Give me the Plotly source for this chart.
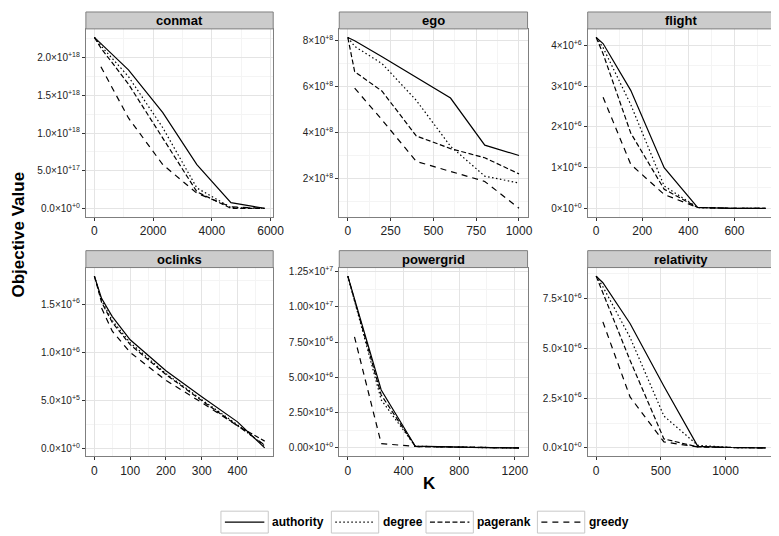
import plotly.graph_objects as go

# ---------------- data ----------------
series_names = ["authority", "degree", "pagerank", "greedy"]
panel_names = ["conmat", "ego", "flight", "oclinks", "powergrid", "relativity"]

conmat_k = [0, 222, 1160, 2330, 3490, 4650, 5800]
conmat_authority = [2.27e18, 2.19e18, 1.84e18, 1.27e18, 0.58e18, 0.075e18, 0.0]
conmat_degree = [2.27e18, 2.16e18, 1.75e18, 1.07e18, 0.27e18, 0.01e18, 0.0]
conmat_pagerank = [2.27e18, 2.13e18, 1.65e18, 0.93e18, 0.22e18, 0.0, 0.0]
conmat_greedy = [None, 1.88e18, 1.2e18, 0.58e18, 0.2e18, 0.02e18, 0.0]

ego_k = [0, 40, 200, 400, 600, 800, 1000]
ego_authority = [8.14e8, 8.0e8, 7.3e8, 6.4e8, 5.5e8, 3.45e8, 3.0e8]
ego_degree = [8.14e8, 7.75e8, 7.0e8, 5.4e8, 3.4e8, 2.1e8, 1.8e8]
ego_pagerank = [8.14e8, 6.65e8, 5.8e8, 3.85e8, 3.3e8, 2.9e8, 2.2e8]
ego_greedy = [None, 5.93e8, 4.55e8, 2.74e8, 2.3e8, 1.87e8, 0.7e8]

flight_k = [0, 30, 150, 295, 440, 590, 735]
flight_authority = [4.2e6, 4.05e6, 2.9e6, 1.0e6, 0.02e6, 0.0, 0.0]
flight_degree = [4.2e6, 3.95e6, 2.55e6, 0.55e6, 0.02e6, 0.0, 0.0]
flight_pagerank = [4.2e6, 3.8e6, 1.85e6, 0.47e6, 0.02e6, 0.0, 0.0]
flight_greedy = [None, 2.73e6, 1.08e6, 0.34e6, 0.02e6, 0.0, 0.0]

oclinks_k = [0, 20, 50, 100, 200, 300, 400, 476]
oclinks_authority = [1.79e6, 1.56e6, 1.37e6, 1.13e6, 0.81e6, 0.54e6, 0.28e6, 0.01e6]
oclinks_degree = [1.79e6, 1.54e6, 1.33e6, 1.10e6, 0.78e6, 0.51e6, 0.25e6, 0.03e6]
oclinks_pagerank = [1.79e6, 1.52e6, 1.31e6, 1.08e6, 0.77e6, 0.50e6, 0.24e6, 0.08e6]
oclinks_greedy = [None, 1.46e6, 1.22e6, 1.0e6, 0.71e6, 0.48e6, 0.24e6, 0.04e6]

powergrid_k = [0, 48, 240, 485, 730, 975, 1230]
powergrid_authority = [12.17e6, 10.55e6, 4.1e6, 0.12e6, 0.05e6, 0.02e6, 0.0]
powergrid_degree = [12.17e6, 10.4e6, 3.4e6, 0.12e6, 0.05e6, 0.02e6, 0.0]
powergrid_pagerank = [12.17e6, 10.5e6, 3.75e6, 0.1e6, 0.05e6, 0.02e6, 0.0]
powergrid_greedy = [None, 7.87e6, 0.31e6, 0.1e6, 0.05e6, 0.02e6, 0.0]

relativity_k = [0, 52, 262, 524, 786, 1048, 1310]
relativity_authority = [8.63e6, 8.3e6, 6.25e6, 3.1e6, 0.08e6, 0.02e6, 0.0]
relativity_degree = [8.63e6, 8.1e6, 5.55e6, 1.6e6, 0.13e6, 0.02e6, 0.0]
relativity_pagerank = [8.63e6, 7.8e6, 4.4e6, 0.45e6, 0.05e6, 0.02e6, 0.0]
relativity_greedy = [None, 6.33e6, 2.56e6, 0.3e6, 0.05e6, 0.02e6, 0.0]

# tick values / labels
conmat_xticks = [0, 2000, 4000, 6000]
conmat_yticks = [0, 5e17, 1e18, 1.5e18, 2e18]
conmat_ylabels = ["0.0×10<sup>+0</sup>", "5.0×10<sup>+17</sup>", "1.0×10<sup>+18</sup>",
                  "1.5×10<sup>+18</sup>", "2.0×10<sup>+18</sup>"]
ego_xticks = [0, 250, 500, 750, 1000]
ego_yticks = [2e8, 4e8, 6e8, 8e8]
ego_ylabels = ["2×10<sup>+8</sup>", "4×10<sup>+8</sup>", "6×10<sup>+8</sup>", "8×10<sup>+8</sup>"]
flight_xticks = [0, 200, 400, 600]
flight_yticks = [0, 1e6, 2e6, 3e6, 4e6]
flight_ylabels = ["0×10<sup>+0</sup>", "1×10<sup>+6</sup>", "2×10<sup>+6</sup>",
                  "3×10<sup>+6</sup>", "4×10<sup>+6</sup>"]
oclinks_xticks = [0, 100, 200, 300, 400]
oclinks_yticks = [0, 5e5, 1e6, 1.5e6]
oclinks_ylabels = ["0.0×10<sup>+0</sup>", "5.0×10<sup>+5</sup>", "1.0×10<sup>+6</sup>",
                   "1.5×10<sup>+6</sup>"]
powergrid_xticks = [0, 400, 800, 1200]
powergrid_yticks = [0, 2.5e6, 5e6, 7.5e6, 1e7, 1.25e7]
powergrid_ylabels = ["0.00×10<sup>+0</sup>", "2.50×10<sup>+6</sup>", "5.00×10<sup>+6</sup>",
                     "7.50×10<sup>+6</sup>", "1.00×10<sup>+7</sup>", "1.25×10<sup>+7</sup>"]
relativity_xticks = [0, 500, 1000]
relativity_yticks = [0, 2.5e6, 5e6, 7.5e6]
relativity_ylabels = ["0.0×10<sup>+0</sup>", "2.5×10<sup>+6</sup>", "5.0×10<sup>+6</sup>",
                      "7.5×10<sup>+6</sup>"]

panels = {
    "conmat": (conmat_k, [conmat_authority, conmat_degree, conmat_pagerank, conmat_greedy],
               conmat_xticks, conmat_yticks, conmat_ylabels),
    "ego": (ego_k, [ego_authority, ego_degree, ego_pagerank, ego_greedy],
            ego_xticks, ego_yticks, ego_ylabels),
    "flight": (flight_k, [flight_authority, flight_degree, flight_pagerank, flight_greedy],
               flight_xticks, flight_yticks, flight_ylabels),
    "oclinks": (oclinks_k, [oclinks_authority, oclinks_degree, oclinks_pagerank, oclinks_greedy],
                oclinks_xticks, oclinks_yticks, oclinks_ylabels),
    "powergrid": (powergrid_k, [powergrid_authority, powergrid_degree, powergrid_pagerank, powergrid_greedy],
                  powergrid_xticks, powergrid_yticks, powergrid_ylabels),
    "relativity": (relativity_k, [relativity_authority, relativity_degree, relativity_pagerank, relativity_greedy],
                   relativity_xticks, relativity_yticks, relativity_ylabels),
}

# ---------------- layout geometry (pixels) ----------------
W, H = 779, 536
col_px = [(79, 269), (336, 527), (588, 777)]
row_px = [(18, 207), (258, 448)]   # plot area top,bottom
strip_h = 17
FONT = "Liberation Sans, Arial, Helvetica, sans-serif"
dash_styles = ["solid", "1.5px,2.5px", "5px,2.5px", "6px,5px"]
line_w = 1.2

def fx(px):
    return px / W

def fy(py):
    return 1 - py / H

fig = go.Figure()
shapes = []
annotations = []

for i, name in enumerate(panel_names):
    r, c = divmod(i, 3)
    idx = i + 1
    xa = "x" if idx == 1 else f"x{idx}"
    ya = "y" if idx == 1 else f"y{idx}"
    k, series, xt, yt, yl = panels[name]
    for sname, vals, dash in zip(series_names, series, dash_styles):
        fig.add_trace(go.Scatter(x=k, y=vals, mode="lines", name=sname,
                                 line=dict(color="black", width=line_w, dash=dash),
                                 showlegend=False, xaxis=xa, yaxis=ya,
                                 connectgaps=False))
    allv = [v for s in series for v in s if v is not None]
    ymin, ymax = min(allv), max(allv)
    yr = ymax - ymin
    xmin, xmax = min(k), max(k)
    xr = xmax - xmin
    xstep = xt[1] - xt[0]
    ystep = yt[1] - yt[0]
    xminor = [xt[0] + xstep * (j + 0.5) for j in range(-2, len(xt) + 1)]
    yminor = [yt[0] + ystep * (j + 0.5) for j in range(-2, len(yt) + 1)]
    x0, x1 = col_px[c]
    y0, y1 = row_px[r]
    common = dict(showline=True, mirror=True, linecolor="#7f7f7f", linewidth=1,
                  showgrid=True, gridcolor="#e4e4e4", gridwidth=1, zeroline=False,
                  ticks="outside", ticklen=3, tickcolor="#333333", tickwidth=1)
    fig.layout[("xaxis" if idx == 1 else f"xaxis{idx}")] = dict(
        domain=[fx(x0), fx(x1)], anchor=ya,
        range=[xmin - 0.05 * xr, xmax + 0.05 * xr],
        tickmode="array", tickvals=xt, ticktext=[str(v) for v in xt],
        tickfont=dict(family=FONT, size=12, color="#222222"),
        minor=dict(tickmode="array", tickvals=xminor, showgrid=True,
                   gridcolor="#f4f4f4", gridwidth=1, ticks=""),
        **common)
    fig.layout[("yaxis" if idx == 1 else f"yaxis{idx}")] = dict(
        domain=[fy(y1), fy(y0)], anchor=xa,
        range=[ymin - 0.05 * yr, ymax + 0.05 * yr],
        tickmode="array", tickvals=yt, ticktext=yl,
        tickfont=dict(family=FONT, size=10, color="#222222"),
        minor=dict(tickmode="array", tickvals=yminor, showgrid=True,
                   gridcolor="#f4f4f4", gridwidth=1, ticks=""),
        **common)
    # strip
    shapes.append(dict(type="rect", xref="paper", yref="paper",
                       x0=fx(x0), x1=fx(x1), y0=fy(y0), y1=fy(y0 - strip_h),
                       fillcolor="#cccccc", line=dict(color="#7f7f7f", width=1),
                       layer="above"))
    annotations.append(dict(text=f"<b>{name}</b>", xref="paper", yref="paper",
                            x=fx((x0 + x1) / 2), y=fy(y0 - strip_h / 2),
                            xanchor="center", yanchor="middle", showarrow=False,
                            font=dict(family=FONT, size=13, color="black")))

# axis titles
annotations.append(dict(text="<b>K</b>", xref="paper", yref="paper",
                        x=fx(428), y=fy(475), xanchor="center", yanchor="middle",
                        showarrow=False, font=dict(family=FONT, size=17, color="black")))
annotations.append(dict(text="<b>Objective Value</b>", xref="paper", yref="paper",
                        x=fx(11), y=fy(225), xanchor="center", yanchor="middle",
                        textangle=-90, showarrow=False,
                        font=dict(family=FONT, size=17, color="black")))

# legend (keys drawn as boxes with sample lines)
legend_boxes = [216, 328, 424, 537]
for name, dash, bx in zip(series_names, dash_styles, legend_boxes):
    shapes.append(dict(type="rect", xref="paper", yref="paper",
                       x0=fx(bx), x1=fx(bx + 48), y0=fy(525), y1=fy(503),
                       fillcolor="white", line=dict(color="#c8c8c8", width=1)))
    shapes.append(dict(type="line", xref="paper", yref="paper",
                       x0=fx(bx + 4), x1=fx(bx + 44), y0=fy(514), y1=fy(514),
                       line=dict(color="black", width=line_w, dash=dash)))
    annotations.append(dict(text=f"<b>{name}</b>", xref="paper", yref="paper",
                            x=fx(bx + 50), y=fy(514), xanchor="left", yanchor="middle",
                            showarrow=False, font=dict(family=FONT, size=12, color="black")))

fig.update_layout(width=W, height=H, margin=dict(l=0, r=0, t=0, b=0),
                  paper_bgcolor="white", plot_bgcolor="white",
                  shapes=shapes, annotations=annotations,
                  font=dict(family=FONT), showlegend=False)

fig.write_html("out.html")
